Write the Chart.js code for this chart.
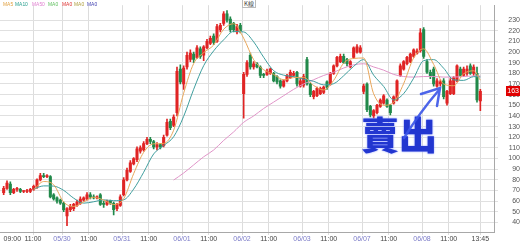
<!DOCTYPE html>
<html>
<head>
<meta charset="utf-8">
<script src="https://cdn.jsdelivr.net/npm/chart.js@4/dist/chart.umd.min.js"></script>
<style>
  html,body{margin:0;padding:0;background:#fff;}
  #wrap{position:relative;width:520px;height:243px;overflow:hidden;}
  #c{position:absolute;left:0;top:0;}
  .lg{position:absolute;top:1px;font:6px "Liberation Sans",Arial,sans-serif;white-space:nowrap;transform:scaleX(0.82);transform-origin:0 0;}
  #kbox{position:absolute;left:242px;top:-1px;font:6px "Noto Sans CJK TC",sans-serif;border:1px solid #bbb;background:#fff;color:#444;padding:0 1px;line-height:7px;}
  #sell{position:absolute;left:361px;top:114px;font-family:"Noto Sans CJK TC","Noto Sans CJK SC",sans-serif;font-weight:900;font-size:38px;line-height:38px;color:#2236d0;text-shadow:0 0 2px #8090ff;white-space:nowrap;}
  #arrow{position:absolute;left:0;top:0;pointer-events:none;}
</style>
</head>
<body>
<div id="wrap">
  <canvas id="c" width="520" height="243"></canvas>
  <span class="lg" style="left:3px;color:#e0a040">MA5</span>
  <span class="lg" style="left:15px;color:#2aa090">MA10</span>
  <span class="lg" style="left:32px;color:#e080d0">MA50</span>
  <span class="lg" style="left:48px;color:#60c060">MA0</span>
  <span class="lg" style="left:62px;color:#dd3030">MA0</span>
  <span class="lg" style="left:74px;color:#b0a040">MA0</span>
  <span class="lg" style="left:87px;color:#4040b0">MA0</span>
  <div id="kbox">K線</div>
  <div id="sell">賣出</div>
  <svg id="arrow" width="520" height="243">
    <g stroke="#3a55e8" stroke-width="2.5" fill="none" stroke-linecap="round" opacity="0.9">
      <path d="M404 138 Q420 112 439 90"/>
      <path d="M421 94 L440 88 L437 106"/>
    </g>
  </svg>
</div>
<script>
// ---- data (15-min candles, 18 per session) ----
const openP = [68,72,76,68,71,71,69,69,69,71,73,80,84,83,83,66,63,61,
58,46,52,53,56,58,61,62,66,64,63,66,58,57,60,58,53,56,
66,80,88,95,99,107,108,114,118,116,111,113,112,122,135,131,143,184,
170,186,193,198,195,203,197,204,208,215,210,221,227,236,231,227,219,225,
161,179,197,186,189,186,179,179,180,180,177,173,168,173,176,178,181,168,
169,193,170,158,159,161,162,172,170,180,187,191,196,193,186,195,200,200,
163,170,149,140,143,149,152,155,150,152,155,178,184,189,191,196,199,201,
221,191,181,184,168,170,173,152,161,161,173,184,178,180,187,180,180,154];
const highP = [74,79,78,72,73,72,70,71,72,75,81,86,86,85,84,67,64,62,
59,54,57,58,61,64,64,68,68,66,65,67,60,61,61,59,58,66,
82,91,98,101,111,112,116,120,120,117,115,114,122,137,137,141,186,188,
187,200,202,200,206,205,206,212,215,217,226,227,238,239,233,228,226,227,
181,192,199,191,190,187,180,184,185,181,178,174,174,179,183,182,182,175,
179,195,171,164,167,167,168,173,181,188,196,198,198,194,192,205,207,206,
170,171,150,146,151,156,160,156,151,159,174,189,192,196,199,203,203,222,
223,193,183,186,175,174,175,164,175,177,188,186,186,187,189,188,186,165];
const lowP = [66,71,66,67,69,68,68,68,68,70,72,79,82,82,63,61,58,57,
50,37,50,51,55,57,60,61,62,62,62,56,54,56,57,47,51,55,
65,79,87,94,97,105,107,113,114,109,108,109,111,121,127,130,140,170,
165,184,191,190,194,194,192,203,207,207,209,219,225,228,219,219,217,218,
138,177,184,184,185,176,176,178,179,172,170,166,167,172,175,177,168,167,
167,169,158,156,158,160,161,165,169,179,186,190,189,187,185,194,199,199,
161,144,139,138,142,148,151,148,141,151,154,177,183,188,190,195,198,200,
194,180,175,168,167,168,156,150,160,160,172,177,177,178,179,178,153,145];
const closeP = [72,77,68,71,72,69,69,70,71,74,80,84,83,84,64,62,60,58,
52,53,55,57,59,62,63,66,64,63,64,57,57,60,58,52,57,64,
80,89,96,100,109,110,114,118,116,111,113,111,120,134,129,139,182,172,
185,197,199,193,204,196,205,210,213,209,224,225,236,230,221,221,224,220,
179,190,186,189,186,178,178,182,184,173,172,168,173,178,181,180,170,173,
177,170,160,163,166,166,167,167,180,187,195,196,190,189,191,204,205,204,
168,146,141,145,150,155,159,149,143,158,173,187,191,195,198,202,201,218,
196,181,177,170,173,172,158,163,173,176,187,178,184,184,180,186,155,163];

// moving-average lines, read at these candle indices
const maX = [9,12,15,18,21,24,27,30,33,36,39,42,45,48,51,54,57,60,63,66,69,72,75,78,81,84,87,90,93,96,99,102,105,108,111,114,117,120,123,126,129,132,135,138,141,143];
const ma5 = [70.6,78.4,75.4,59.2,55,59.2,63.6,61,56.8,62.2,85.8,105.8,113.8,114.2,126.6,161.4,189.2,199.4,206.6,221.4,226.6,213,192.8,183.4,179,174,176,176.2,168.6,164.4,173.4,189.6,194,194.4,160.8,150,152.8,170.4,194.6,203,188.4,170,168.4,179.6,182.4,173.6];
const ma10 = [71.3,74.3,74.1,70.1,62.8,58.1,59.4,61.2,60.4,61.2,71.3,87.1,104.3,112.2,120.5,139.6,165,187.2,201.1,211.5,219.4,218.9,209.6,195.1,182.5,178.3,176.9,174.5,172.5,169.2,170.3,177.7,186.6,192.9,178.3,167.7,155,161,175.5,191.9,192.9,184.8,173.9,173.4,176.9,176.6];
const ma50 = [null,null,null,null,null,null,null,null,null,null,null,null,null,null,79.8,86.4,94,101.6,108,117,125,134,140,147,153,159,165,170,174,178,181,185,188,189,186,183,179,177,176.5,177,177,176.5,176.5,177,177.5,177.5];

// axis ticks
const xTickPos = [2.6,8.8,17.5,25.5,35.5,43.5,53.5,61.5,71.5,79.5,89.5,97.5,107.5,115.5,125.5,133.5,143];
const xTickLabels = ["09:00","11:00","05/30","11:00","05/31","11:00","06/01","11:00","06/02","11:00","06/03","11:00","06/07","11:00","06/08","11:00","13:45"];
const yTicks = [40,50,60,70,80,90,100,110,120,130,140,150,160,170,180,190,200,210,220,230];

const UP = '#e02424', DOWN = '#21894a';
const colorOf = i => closeP[i] >= openP[i] ? UP : DOWN;
const wickData = closeP.map((c, i) => ({x: i, y: [lowP[i], highP[i]]}));
const bodyData = closeP.map((c, i) => ({x: i, y: [openP[i], c]}));
const cols = closeP.map((c, i) => colorOf(i));
const line = (vals) => vals.map((v, k) => ({x: maX[k], y: v}));

const priceTag = {
  id: 'priceTag',
  afterDraw(chart) {
    const ctx = chart.ctx;
    const last = closeP[closeP.length - 1];
    const y = chart.scales.y.getPixelForValue(last);
    ctx.save();
    ctx.fillStyle = '#e00000';
    ctx.fillRect(chart.width - 14, Math.round(y) - 5, 14, 10);
    ctx.fillStyle = '#ffffff';
    ctx.font = '7px "Liberation Sans", Arial, sans-serif';
    ctx.textAlign = 'right';
    ctx.textBaseline = 'middle';
    ctx.fillText(String(last), chart.width - 1, Math.round(y));
    ctx.restore();
  }
};

new Chart(document.getElementById('c'), {
  type: 'bar',
  data: {
    datasets: [
      {type: 'line', label: 'MA5', data: line(ma5), borderColor: '#e8a65a', borderWidth: 1, pointRadius: 0, cubicInterpolationMode: 'monotone', order: 1},
      {type: 'line', label: 'MA10', data: line(ma10), borderColor: '#3f9e9e', borderWidth: 1, pointRadius: 0, cubicInterpolationMode: 'monotone', order: 1},
      {type: 'line', label: 'MA50', data: line(ma50), borderColor: '#e094c8', borderWidth: 1, pointRadius: 0, cubicInterpolationMode: 'monotone', order: 1},
      {label: 'wick', data: wickData, backgroundColor: cols, borderWidth: 0, barThickness: 1, grouped: false, order: 3},
      {label: 'body', data: bodyData, backgroundColor: cols, borderWidth: 0, barThickness: 2.4, grouped: false, minBarLength: 1, order: 2}
    ]
  },
  options: {
    responsive: false,
    animation: false,
    devicePixelRatio: 1,
    layout: {padding: 0},
    plugins: {legend: {display: false}, tooltip: {enabled: false}},
    scales: {
      x: {
        type: 'linear', min: -1.1, max: 147.1, offset: false,
        afterBuildTicks: s => { s.ticks = xTickPos.map(v => ({value: v})); },
        afterFit: s => { s.height = 11; },
        grid: {color: ctx => ctx.index === 0 ? 'rgba(0,0,0,0)' : '#dcdcdc', tickLength: 3, offset: false},
        border: {color: '#a8a8a8'},
        ticks: {
          autoSkip: false, maxRotation: 0, padding: 0,
          font: {size: 7, family: '"Liberation Sans", Arial, sans-serif'},
          color: ctx => /\//.test(xTickLabels[ctx.index] || '') ? '#7b7bc8' : '#444',
          callback: (v, i) => xTickLabels[i]
        }
      },
      y: {
        position: 'right', min: 31, max: 244,
        afterBuildTicks: s => { s.ticks = yTicks.map(v => ({value: v})); },
        afterFit: s => { s.width = 26; },
        grid: {color: '#e0e0e0', tickLength: 4},
        border: {color: '#a8a8a8'},
        ticks: {
          crossAlign: 'far', padding: 1,
          font: {size: 7, family: '"Liberation Sans", Arial, sans-serif'},
          color: '#555'
        }
      }
    }
  },
  plugins: [priceTag]
});
</script>
</body>
</html>
